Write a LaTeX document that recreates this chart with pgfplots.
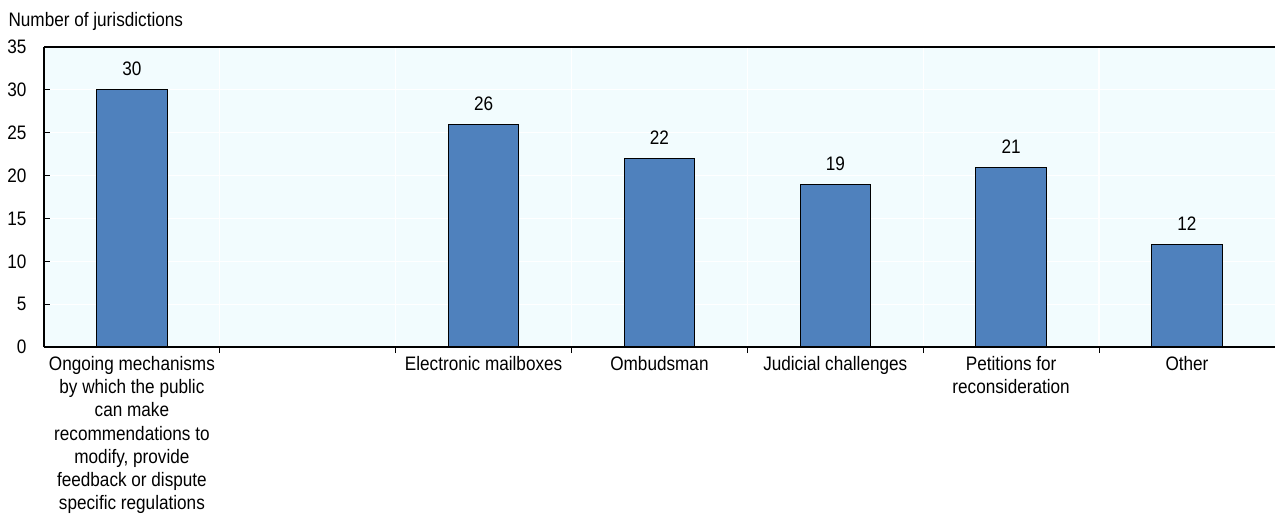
\documentclass[border=0pt]{standalone}
\usepackage{fontspec}
\setmainfont[FakeStretch=0.88]{Liberation Sans}
\usepackage{pgfplots}
\pgfplotsset{compat=1.18}
\definecolor{bgc}{RGB}{242,252,254}
\definecolor{barc}{RGB}{79,129,189}
\begin{document}
\begin{tikzpicture}
\begin{axis}[
  at={(0pt,0pt)}, anchor=south west,
  scale only axis,
  width=1231pt, height=300pt,
  xmin=-0.5, xmax=6.5, ymin=0, ymax=35,
  axis background/.style={fill=bgc},
  axis line style={draw=none},
  ytick={0,5,...,35},
  xtick={0,...,6},
  xticklabels={{Ongoing mechanisms\\by which the public\\can make\\recommendations to\\modify, provide\\feedback or dispute\\specific regulations},{},{Electronic mailboxes},{Ombudsman},{Judicial challenges},{Petitions for\\reconsideration},{Other}},
  xticklabel style={align=center, font=\fontsize{19.5}{23.3}\selectfont, yshift=1pt},
  yticklabel style={font=\fontsize{19.5}{21}\selectfont, xshift=-14pt},
  /pgf/number format/assume math mode=true,
  major x tick style={draw=none},
  minor xtick={0.5,1.5,...,5.5},
  minor tick length=6pt,
  major tick length=6.5pt,
  tick align=inside,
  xtick pos=bottom, ytick pos=left,
  tick style={black, line width=1pt},
  ymajorgrids, xminorgrids,
  major grid style={white, line width=1.2pt},
  minor grid style={white, line width=1.2pt},
  ybar, bar width=0.4,
  nodes near coords,
  every node near coord/.append style={font=\fontsize{19.5}{21}\selectfont, yshift=10pt},
  clip=false,
]
\addplot[fill=barc, draw=black, line width=1pt] coordinates {(0,30) (2,26) (3,22) (4,19) (5,21) (6,12)};
\draw[black, line width=1.3pt] (rel axis cs:0,0) -- (rel axis cs:1,0);
\draw[black, line width=1.3pt] (rel axis cs:0,0) -- (rel axis cs:0,1);
\draw[black, line width=1.8pt] (rel axis cs:0,1) -- (rel axis cs:1,1);
\node[anchor=west, font=\fontsize{19.5}{21}\selectfont] at ([xshift=-39pt, yshift=26pt]rel axis cs:0,1) {Number of jurisdictions};
\end{axis}
\pgfresetboundingbox
\path (-44pt,-173pt) rectangle (1231pt,347pt);
\end{tikzpicture}
\end{document}
